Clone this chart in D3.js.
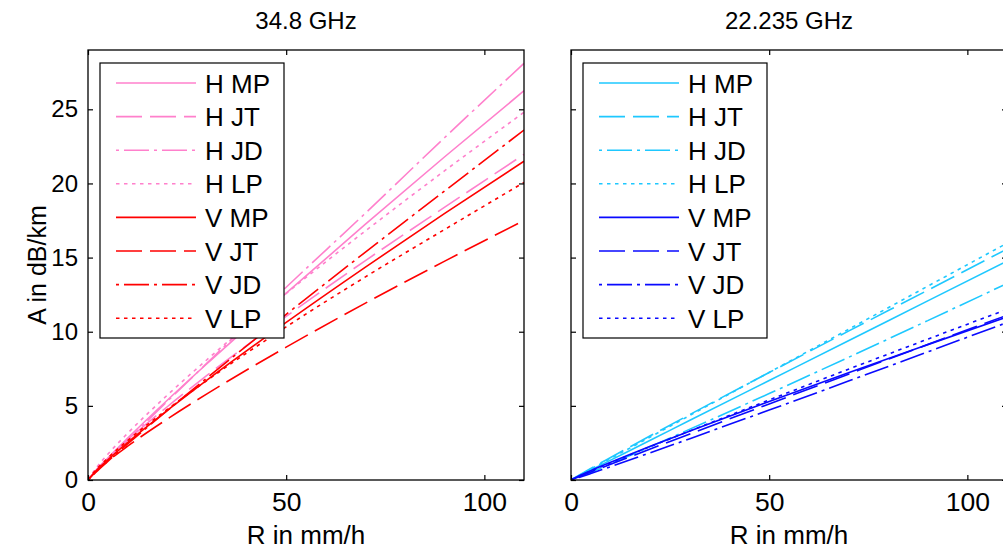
<!DOCTYPE html>
<meta charset="utf-8">
<style>
    html, body { margin:0; padding:0; overflow:hidden; background:#fff }
    text { font-family: "Liberation Sans", Arial, sans-serif; fill:#000 }
    .axis path { display:none }
    .axis line { stroke:#000; stroke-width:1.2px }
    .axis text { font-size:26.5px; font-family: "Liberation Sans", Arial, sans-serif }
    .yaxis text { font-size:24px }
</style>
<svg id="mainsvg" width="1003" height="554"></svg>
<script src="https://cdn.jsdelivr.net/npm/d3@7"></script>
<script>

    var rainRates = [0, 2, 5, 10, 20, 30, 50, 70, 90, 110];
    var seriesNames = ["H MP", "H JT", "H JD", "H LP", "V MP", "V JT", "V JD", "V LP"];
    var xTicks = [0, 50, 100];
    var yTicks = [0, 5, 10, 15, 20, 25];

    // 34.8 GHz, A in dB/km
    var a348_HMP = [0, 0.63, 1.48, 2.82, 5.38, 7.84, 12.6, 17.25, 21.8, 26.25];
    var a348_HJT = [0, 0.66, 1.47, 2.69, 4.94, 7.05, 11.03, 14.8, 18.4, 21.96];
    var a348_HJD = [0, 0.56, 1.37, 2.69, 5.30, 7.88, 13.0, 18.0, 23.1, 28.1];
    var a348_HLP = [0, 0.79, 1.74, 3.15, 5.72, 8.11, 12.58, 16.8, 20.86, 24.8];
    var a348_VMP = [0, 0.60, 1.36, 2.53, 4.69, 6.74, 10.63, 14.36, 17.98, 21.5];
    var a348_VJT = [0, 0.58, 1.27, 2.28, 4.11, 5.81, 8.96, 11.93, 14.76, 17.5];
    var a348_VJD = [0, 0.53, 1.26, 2.43, 4.68, 6.88, 11.17, 15.37, 19.5, 23.6];
    var a348_VLP = [0, 0.68, 1.48, 2.66, 4.76, 6.71, 10.33, 13.7, 16.9, 20.07];

    // 22.235 GHz, A in dB/km
    var a222_HMP = [0, 0.27, 0.67, 1.34, 2.68, 4.03, 6.71, 9.39, 12.08, 14.76];
    var a222_HJT = [0, 0.32, 0.78, 1.52, 2.98, 4.42, 7.25, 10.04, 12.8, 15.58];
    var a222_HJD = [0, 0.21, 0.53, 1.09, 2.25, 3.43, 5.83, 8.27, 10.75, 13.25];
    var a222_HLP = [0, 0.29, 0.73, 1.45, 2.90, 4.36, 7.26, 10.16, 13.07, 15.97];
    var a222_VMP = [0, 0.27, 0.63, 1.19, 2.27, 3.30, 5.30, 7.24, 9.13, 11.0];
    var a222_VJT = [0, 0.22, 0.54, 1.06, 2.09, 3.11, 5.13, 7.14, 9.14, 11.11];
    var a222_VJD = [0, 0.17, 0.44, 0.90, 1.84, 2.79, 4.72, 6.67, 8.64, 10.62];
    var a222_VLP = [0, 0.25, 0.60, 1.16, 2.25, 3.31, 5.40, 7.47, 9.50, 11.51];

    var dashes = ["none", "26,8", "3,5,25,5", "3.5,4.5"];

    var panels = [
        { title: "34.8 GHz", left: 88, colH: "#ff80cc", colV: "#ff0000", yLabels: true,
          series: [a348_HMP, a348_HJT, a348_HJD, a348_HLP, a348_VMP, a348_VJT, a348_VJD, a348_VLP] },
        { title: "22.235 GHz", left: 571, colH: "#1ec8ff", colV: "#0a0aff", yLabels: false,
          series: [a222_HMP, a222_HJT, a222_HJD, a222_HLP, a222_VMP, a222_VJT, a222_VJD, a222_VLP] }
    ];

    var svg = d3.select("#mainsvg");
    svg.append("rect").attr("width", 1003).attr("height", 554).attr("fill", "#fff");

    var plotTop = 50, plotBottom = 480, plotW = 436;

    var y = d3.scaleLinear().domain([0, 29]).range([plotBottom, plotTop]);

    panels.forEach(function(p, pi) {

        var x = d3.scaleLinear().domain([0, 110]).range([p.left, p.left + plotW]);

        var clipId = "clip" + pi;
        svg.append("clipPath").attr("id", clipId)
            .append("rect")
            .attr("x", p.left).attr("y", plotTop)
            .attr("width", plotW).attr("height", plotBottom - plotTop);

        var line = d3.line()
            .x(function(d) { return x(d[0]); })
            .y(function(d) { return y(d[1]); })
            .curve(d3.curveMonotoneX);

        var g = svg.append("g").attr("clip-path", "url(#" + clipId + ")");

        p.series.forEach(function(vals, i) {
            var pts = rainRates.map(function(r, j) { return [r, vals[j]]; });
            g.append("path")
                .attr("d", line(pts))
                .attr("fill", "none")
                .attr("stroke", i < 4 ? p.colH : p.colV)
                .attr("stroke-width", 1.6)
                .attr("stroke-dasharray", dashes[i % 4]);
        });

        // axes, ticks pointing inward on all four sides
        svg.append("g").attr("class", "axis")
            .attr("transform", "translate(0," + plotBottom + ")")
            .call(d3.axisBottom(x).tickValues(xTicks).tickSizeInner(-5).tickSizeOuter(0).tickPadding(12));
        svg.append("g").attr("class", "axis")
            .attr("transform", "translate(0," + plotTop + ")")
            .call(d3.axisTop(x).tickValues(xTicks).tickSizeInner(-5).tickSizeOuter(0).tickFormat(""));
        svg.append("g").attr("class", "axis yaxis")
            .attr("transform", "translate(" + p.left + ",0)")
            .call(d3.axisLeft(y).tickValues(yTicks).tickSizeInner(-5).tickSizeOuter(0).tickPadding(10)
                .tickFormat(p.yLabels ? d3.format("d") : ""));
        svg.append("g").attr("class", "axis")
            .attr("transform", "translate(" + (p.left + plotW) + ",0)")
            .call(d3.axisRight(y).tickValues(yTicks).tickSizeInner(-5).tickSizeOuter(0).tickFormat(""));

        svg.append("rect")
            .attr("x", p.left).attr("y", plotTop)
            .attr("width", plotW).attr("height", plotBottom - plotTop)
            .attr("fill", "none").attr("stroke", "#000").attr("stroke-width", 1.3);

        svg.append("text")
            .attr("x", p.left + plotW / 2).attr("y", 29)
            .attr("text-anchor", "middle").style("font-size", "24px")
            .text(p.title);

        svg.append("text")
            .attr("x", p.left + plotW / 2).attr("y", 544)
            .attr("text-anchor", "middle").style("font-size", "26px")
            .text("R in mm/h");

        // legend
        var lx = p.left + 12, ly = 63, lw = 184, lh = 275;
        svg.append("rect")
            .attr("x", lx).attr("y", ly).attr("width", lw).attr("height", lh)
            .attr("fill", "#fff").attr("stroke", "#000").attr("stroke-width", 1.2);

        seriesNames.forEach(function(name, i) {
            var yy = ly + 20 + i * 33.6;
            svg.append("line")
                .attr("x1", lx + 16).attr("x2", lx + 96)
                .attr("y1", yy).attr("y2", yy)
                .attr("stroke", i < 4 ? p.colH : p.colV)
                .attr("stroke-width", 1.6)
                .attr("stroke-dasharray", dashes[i % 4]);
            svg.append("text")
                .attr("x", lx + 105).attr("y", yy + 9.5)
                .style("font-size", "26px")
                .text(name);
        });
    });

    svg.append("text")
        .attr("transform", "translate(46,265) rotate(-90)")
        .attr("text-anchor", "middle").style("font-size", "25px")
        .text("A in dB/km");

</script>
